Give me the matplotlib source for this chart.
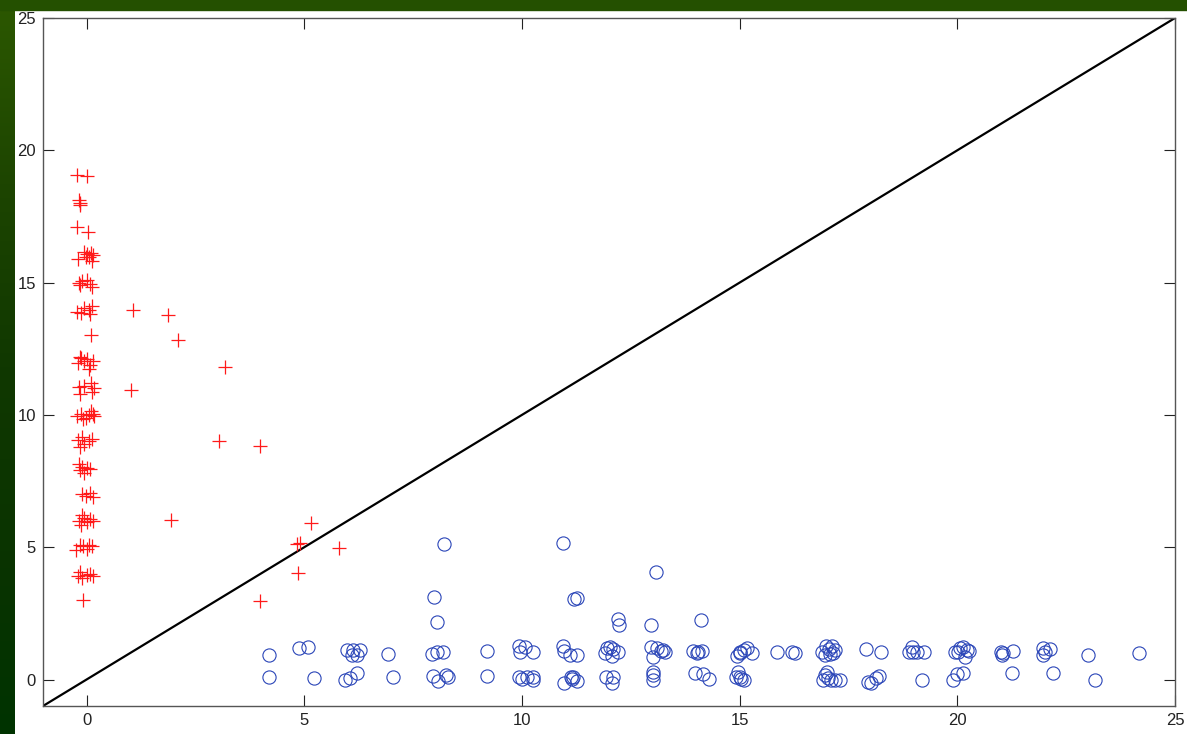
import numpy as np
import matplotlib
matplotlib.use('Agg')
import matplotlib.pyplot as plt
from matplotlib.patches import Rectangle

plt.rcParams['font.family'] = ['Liberation Sans', 'DejaVu Sans']

# Grupo A (cruces rojas): casi todo pegado a x = 0
red_x = [-0.23, 0.00,
         -0.18, -0.14, -0.16,
         -0.21, 0.04,
         -0.20, -0.05, 0.02, 0.10, 0.05, 0.15, 0.12, -0.02,
         -0.18, -0.10, 0.02, 0.08, 0.12, -0.15,
         -0.22, -0.12, -0.05, 0.05, 0.12, 0.08,
         0.10,
         -0.20, -0.12, -0.05, 0.02, 0.08, 0.15, 0.05, -0.15,
         -0.18, -0.15, -0.05, 0.10, 0.12, 0.18,
         -0.22, -0.12, -0.08, 0.05, 0.10, 0.15, 0.18, -0.02,
         -0.20, -0.15, -0.10, 0.05, 0.12, -0.05,
         -0.18, -0.15, -0.10, -0.05, 0.02, 0.08,
         -0.10, -0.02, 0.08, 0.15,
         -0.18, -0.12, -0.05, 0.02, 0.08, 0.15, -0.10,
         -0.25, -0.15, -0.08, 0.00, 0.05, 0.12,
         -0.20, -0.15, -0.10, 0.00, 0.08, 0.15,
         -0.09,
         1.06, 1.88, 2.09, 3.17, 1.01, 3.05, 3.98, 1.94,
         5.16, 4.83, 4.90, 5.79, 4.85, 3.99]
red_y = [19.07, 19.04,
         18.12, 18.00, 17.92,
         17.11, 16.92,
         15.88, 16.15, 16.10, 16.12, 15.95, 16.05, 15.80, 15.98,
         14.98, 15.05, 15.10, 14.95, 14.85, 14.90,
         13.90, 13.85, 14.05, 13.95, 14.10, 13.80,
         13.02,
         11.95, 12.15, 12.05, 12.10, 11.90, 12.05, 11.75, 12.20,
         11.05, 10.80, 11.10, 11.20, 10.85, 11.02,
         9.95, 10.05, 9.85, 10.00, 10.15, 10.05, 9.95, 9.90,
         9.05, 8.80, 9.15, 9.00, 9.10, 8.90,
         8.15, 7.90, 8.05, 7.80, 8.00, 7.95,
         7.00, 6.95, 7.05, 6.90,
         6.00, 5.85, 6.10, 5.95, 6.05, 6.00, 6.20,
         4.90, 5.10, 5.05, 4.95, 5.10, 5.05,
         3.90, 4.05, 3.85, 3.95, 4.00, 3.90,
         3.00,
         13.96, 13.78, 12.83, 11.82, 10.94, 9.03, 8.82, 6.03,
         5.90, 5.12, 5.15, 4.96, 4.04, 2.98]

# Grupo B (círculos azules): casi todo pegado a y = 0 / y = 1
blue_x = [4.20, 4.18, 4.89, 5.09, 5.23,
          5.98, 6.13, 6.27, 6.09, 6.22, 5.94, 6.04, 6.21,
          6.93, 7.05,
          8.21, 10.94, 13.08, 7.99, 8.06, 11.20, 11.26, 12.21, 12.24, 12.96, 14.11,
          7.93, 8.04, 8.18, 9.19,
          9.94, 10.07, 9.96, 10.25,
          10.94, 10.97, 11.10, 11.27,
          11.91, 12.02, 12.10, 12.20, 12.06, 11.96,
          12.96, 13.11, 13.25, 13.02, 13.20, 13.29,
          13.94, 14.05, 14.13, 14.01,
          14.93, 15.01, 15.09, 15.16, 15.28, 15.01,
          15.87, 16.21, 16.27,
          16.90, 16.98, 17.05, 17.12, 17.20, 16.95, 17.08, 17.15,
          17.90, 18.24,
          18.95, 18.90, 19.07, 19.23, 18.99,
          19.95, 20.06, 20.14, 20.22, 20.28, 20.18, 20.02,
          21.00, 21.02, 21.06, 21.29,
          21.96, 22.02, 22.13, 21.96,
          23.01, 24.18,
          7.95, 8.08, 8.26, 8.30, 9.20,
          9.94, 10.00, 10.11, 10.25, 10.26,
          10.97, 11.12, 11.18, 11.27, 11.14,
          11.92, 12.10, 12.06,
          13.02, 13.02, 13.02,
          13.98, 14.16, 14.30,
          14.97, 14.92, 15.01, 15.09, 15.03,
          16.96, 17.04, 17.11, 17.19, 17.30, 16.92, 17.00,
          17.95, 18.02, 18.14, 18.20,
          19.20, 19.89, 20.00, 20.12, 21.25, 22.20, 23.16]
blue_y = [0.93, 0.11, 1.20, 1.22, 0.05,
          1.11, 1.11, 1.11, 0.93, 0.93, 0.00, 0.04, 0.23,
          0.96, 0.08,
          5.12, 5.17, 4.07, 3.13, 2.16, 3.04, 3.07, 2.27, 2.06, 2.06, 2.25,
          0.96, 1.03, 1.05, 1.09,
          1.28, 1.24, 1.03, 1.03,
          1.27, 1.08, 0.93, 0.93,
          1.01, 1.24, 1.14, 1.05, 0.89, 1.18,
          1.22, 1.20, 1.11, 0.86, 1.08, 1.05,
          1.09, 1.05, 1.09, 0.99,
          0.90, 0.99, 1.11, 1.18, 0.99, 1.05,
          1.03, 1.05, 0.99,
          1.05, 1.28, 1.15, 1.25, 1.10, 0.92, 0.95, 1.00,
          1.15, 1.05,
          1.24, 1.03, 1.05, 1.03, 1.05,
          1.05, 1.18, 1.24, 1.11, 1.09, 0.86, 1.05,
          1.05, 0.93, 0.99, 1.09,
          1.18, 1.05, 1.15, 0.93,
          0.93, 0.99,
          0.14, -0.06, 0.17, 0.11, 0.14,
          0.11, 0.01, 0.11, 0.11, -0.02,
          -0.12, 0.11, 0.08, -0.06, 0.01,
          0.11, 0.11, -0.12,
          0.29, 0.17, -0.02,
          0.26, 0.21, 0.01,
          0.29, 0.08, 0.11, -0.02, 0.01,
          0.17, 0.05, -0.02, -0.02, -0.02, -0.02, 0.29,
          -0.08, -0.12, 0.05, 0.13,
          -0.02, -0.02, 0.21, 0.26, 0.23, 0.26, -0.02]

ticks = [0, 5, 10, 15, 20, 25]
lims = [-1, 25]


def add_background(fig):
    """Marco verde de la diapositiva: franja superior y degradado a la izquierda."""
    bg = fig.add_axes([0, 0, 15 / 1187, 1], zorder=-5)
    grad = np.linspace(0, 1, 256).reshape(-1, 1)
    cmap = matplotlib.colors.LinearSegmentedColormap.from_list(
        'verde', ['#2c5800', '#1d4500', '#103800', '#0a3400', '#003300'])
    bg.imshow(grad, aspect='auto', cmap=cmap, extent=[0, 1, 1, 0])
    bg.axis('off')
    fig.patches.append(Rectangle((0, 1 - 10 / 734), 1, 10 / 734, transform=fig.transFigure,
                                 color='#245000', zorder=-4))


fig = plt.figure(figsize=(11.87, 7.34), dpi=100, facecolor='white')
add_background(fig)

ax = fig.add_axes([43 / 1187, 28 / 734, 1132 / 1187, 688 / 734])

# Diagonal y = x
ax.plot(lims, lims, color='black', linewidth=1.6, zorder=1)

ax.plot(red_x, red_y, linestyle='none', marker='+', markersize=10,
        markeredgewidth=0.9, color='#ff1a1a', zorder=2)
ax.plot(blue_x, blue_y, linestyle='none', marker='o', markersize=9.5,
        markeredgewidth=0.8, markerfacecolor='none', markeredgecolor='#2a45b8', zorder=2)

ax.set_xlim(lims)
ax.set_ylim(lims)
ax.set_xticks(ticks)
ax.set_yticks(ticks)
ax.tick_params(direction='in', length=8, width=0.8, top=True, right=True,
               labelsize=12, colors='#222222', pad=5)
for s in ax.spines.values():
    s.set_color('#555555')
    s.set_linewidth(1.0)

plt.savefig('out.png', dpi=100, facecolor=fig.get_facecolor())
plt.close(fig)
